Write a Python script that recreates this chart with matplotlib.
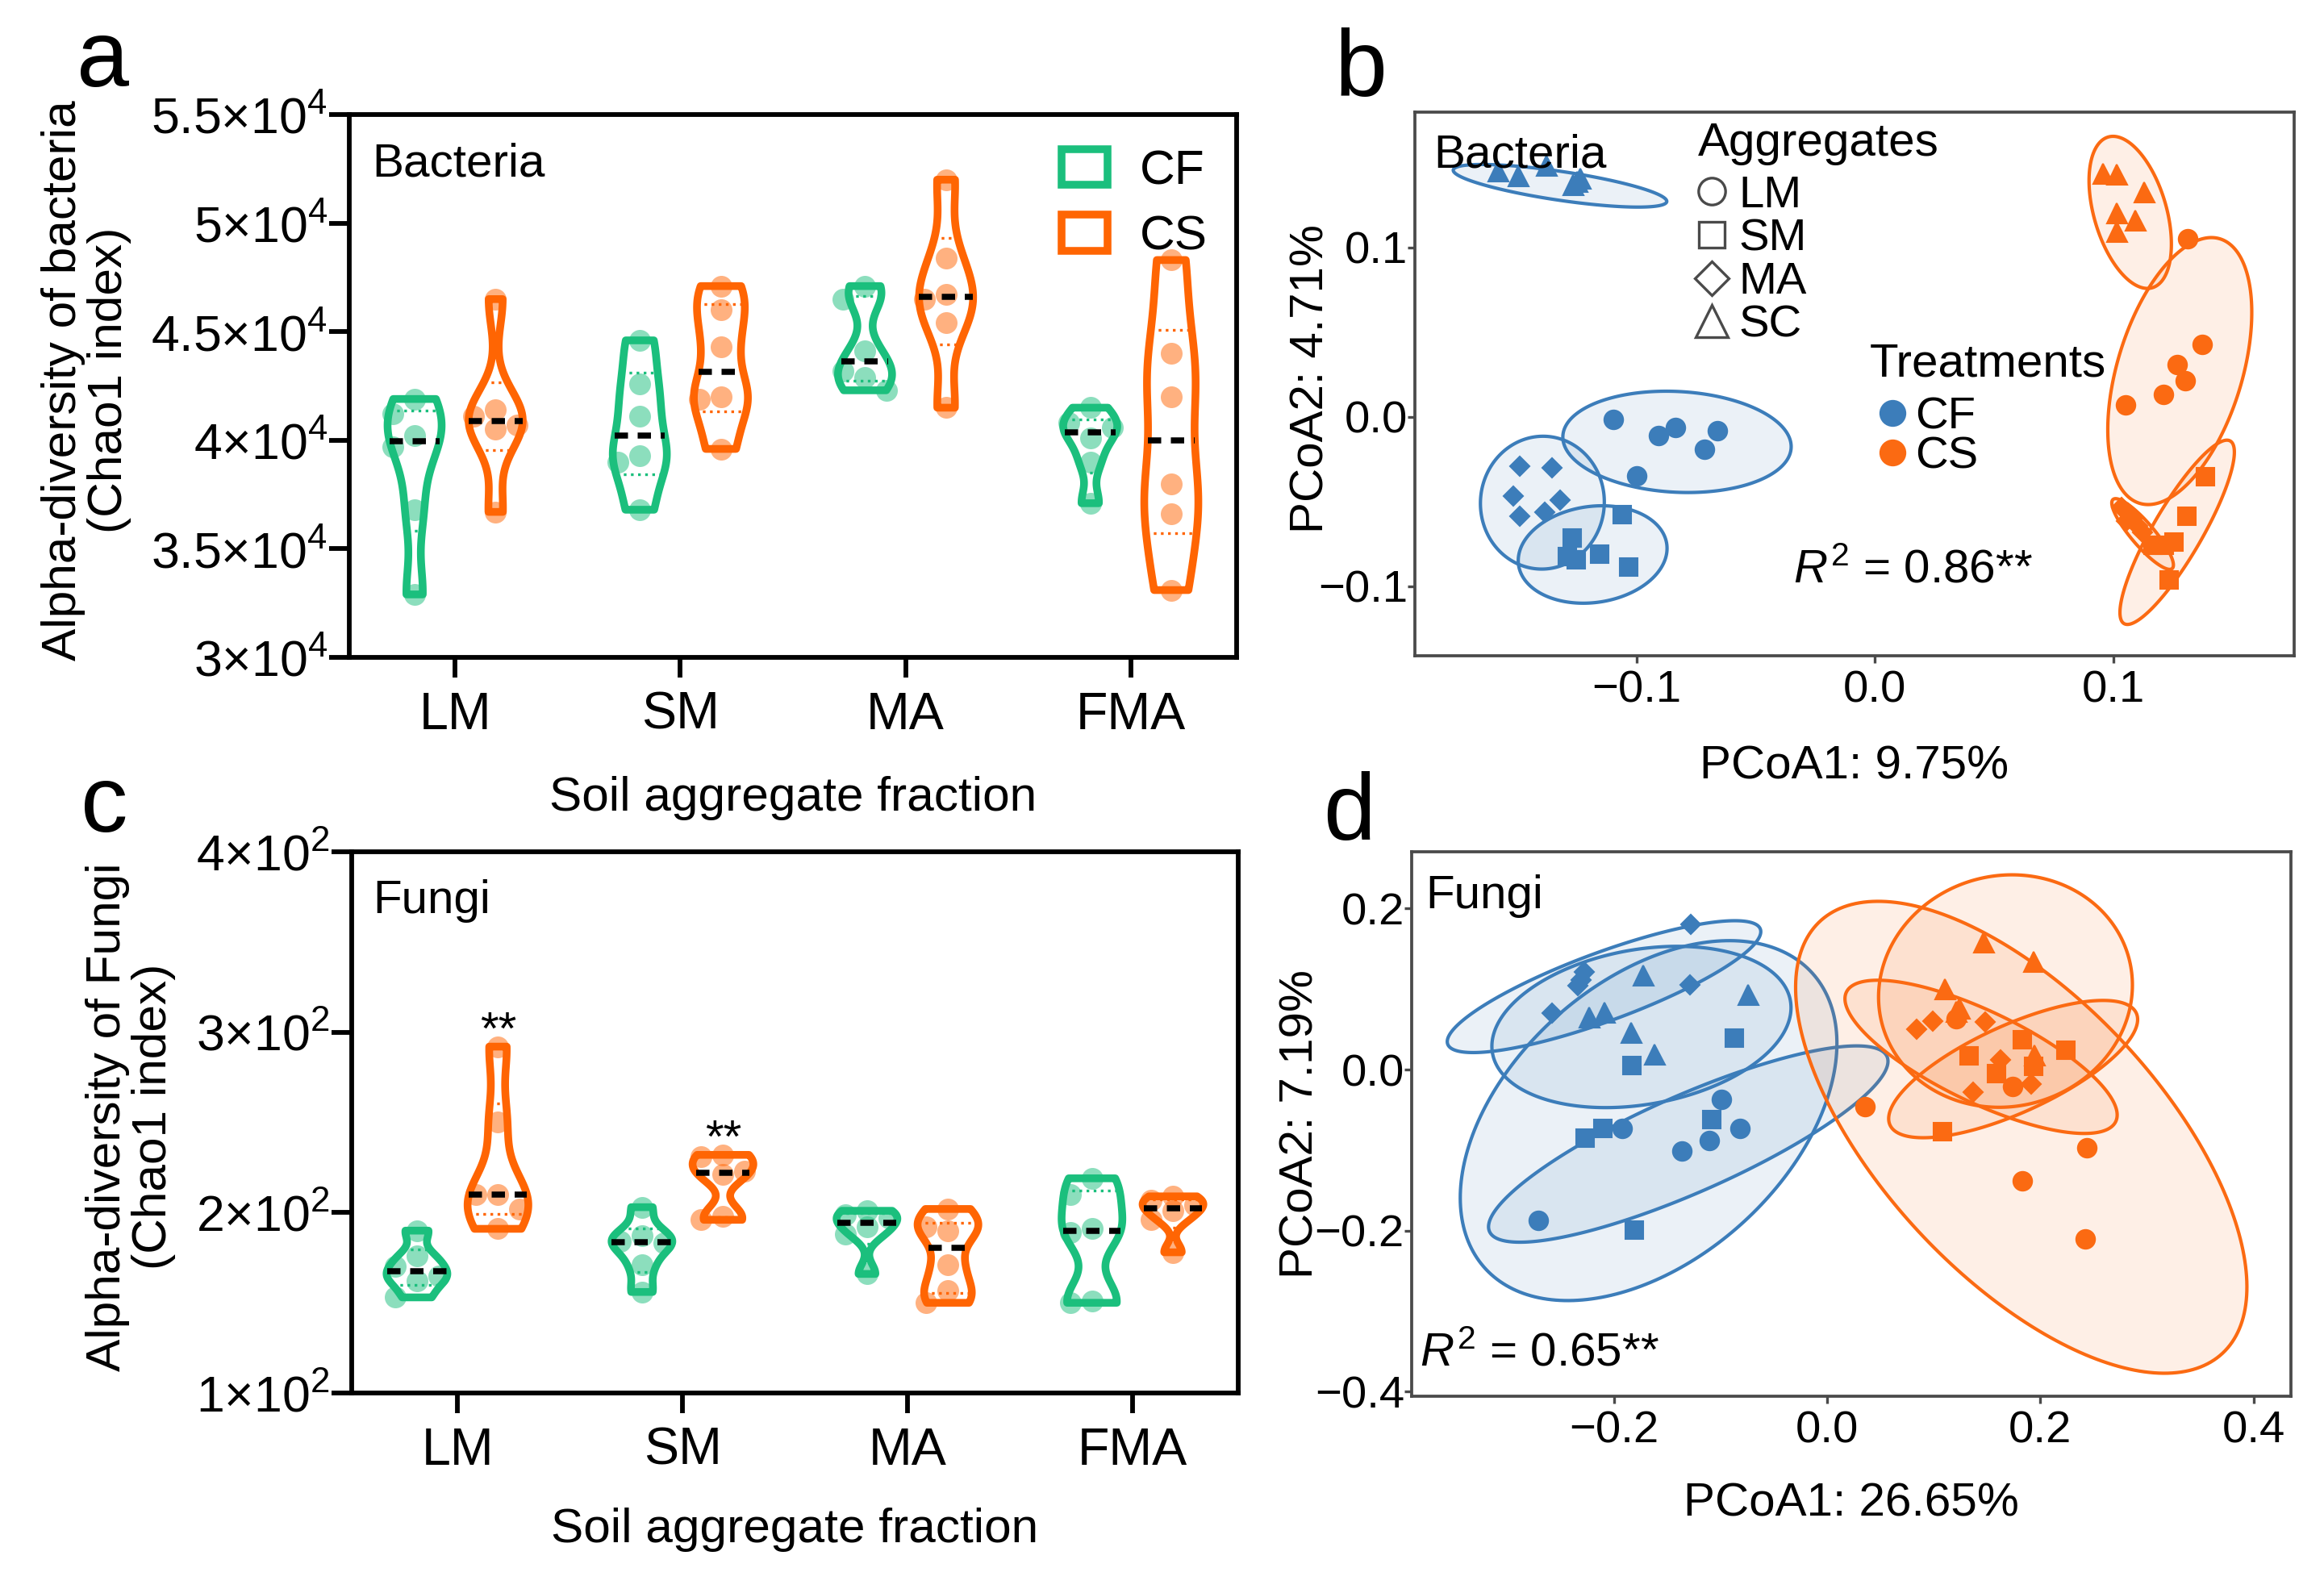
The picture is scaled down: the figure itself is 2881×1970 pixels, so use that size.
import matplotlib
matplotlib.use("Agg")
import matplotlib.pyplot as plt
import numpy as np
from matplotlib import mlab
from matplotlib.colors import to_rgba
from matplotlib.lines import Line2D
from matplotlib.patches import Patch, Polygon

plt.rcParams["font.family"] = ["Liberation Sans", "DejaVu Sans"]
plt.rcParams["mathtext.fontset"] = "custom"
plt.rcParams["mathtext.rm"] = "Liberation Sans"
plt.rcParams["mathtext.it"] = "Liberation Sans:italic"
plt.rcParams["mathtext.bf"] = "Liberation Sans:bold"

# ---------------- alpha diversity (Chao1), 6 replicates per group ----------------
fractions = ["LM", "SM", "MA", "FMA"]
treatments = ["CF", "CS"]

bac_cf = [
    [41900, 41200, 40200, 39700, 36800, 32900],
    [44600, 42600, 41100, 39300, 39000, 36800],
    [47100, 46500, 44100, 43200, 42900, 42300],
    [41500, 40800, 40600, 40100, 39000, 37100],
]
bac_cs = [
    [46500, 41400, 41100, 40700, 40500, 36700],
    [47100, 46000, 44300, 42000, 41900, 39600],
    [52000, 48400, 46700, 46500, 45400, 41500],
    [48300, 44000, 42000, 38000, 36600, 33100],
]
fun_cf = [
    [190, 176, 170, 165, 162, 153],
    [203, 187, 184, 183, 171, 156],
    [201, 199, 197, 192, 188, 166],
    [219, 210, 191, 189, 151, 150],
]
fun_cs = [
    [292, 250, 210, 210, 202, 191],
    [232, 231, 223, 221, 198, 196],
    [202, 192, 190, 171, 157, 150],
    [209, 207, 204, 201, 196, 178],
]
fun_sig = ["**", "**", "", ""]

bac_yticks = [30000, 35000, 40000, 45000, 50000, 55000]
bac_yticklabels = ["3×10$^{4}$", "3.5×10$^{4}$", "4×10$^{4}$",
                   "4.5×10$^{4}$", "5×10$^{4}$", "5.5×10$^{4}$"]
fun_yticks = [100, 200, 300, 400]
fun_yticklabels = ["1×10$^{2}$", "2×10$^{2}$", "3×10$^{2}$", "4×10$^{2}$"]

# ---------------- PCoA scores, lists ordered LM, SM, MA, SC ----------------
aggregates = ["LM", "SM", "MA", "SC"]
agg_markers = ["o", "s", "D", "^"]

bac_cf_pc1 = [
    [-0.1097, -0.0908, -0.0837, -0.0661, -0.0714, -0.1000],
    [-0.1059, -0.1270, -0.1290, -0.1252, -0.1154, -0.1033],
    [-0.1490, -0.1353, -0.1516, -0.1320, -0.1490, -0.1385],
    [-0.1580, -0.1498, -0.1377, -0.1267, -0.1237, -0.1250],
]
bac_cf_pc2 = [
    [-0.0015, -0.0110, -0.0064, -0.0079, -0.0191, -0.0349],
    [-0.0578, -0.0716, -0.0823, -0.0844, -0.0808, -0.0887],
    [-0.0291, -0.0302, -0.0468, -0.0489, -0.0585, -0.0561],
    [0.1452, 0.1424, 0.1488, 0.1373, 0.1410, 0.1390],
]
bac_cs_pc1 = [
    [0.1313, 0.1373, 0.1269, 0.1304, 0.1211, 0.1051],
    [0.1389, 0.1310, 0.1255, 0.1214, 0.1166, 0.1235],
    [0.1035, 0.1062, 0.1083, 0.1055, 0.1104, 0.1124],
    [0.0959, 0.1014, 0.1129, 0.1014, 0.1093, 0.1014],
]
bac_cs_pc2 = [
    [0.1052, 0.0426, 0.0310, 0.0213, 0.0135, 0.0073],
    [-0.0351, -0.0588, -0.0740, -0.0756, -0.0759, -0.0963],
    [-0.0536, -0.0565, -0.0594, -0.0613, -0.0642, -0.0681],
    [0.1437, 0.1433, 0.1330, 0.1204, 0.1161, 0.1097],
]
fun_cf_pc1 = [
    [-0.0992, -0.1920, -0.0816, -0.1103, -0.1363, -0.2707],
    [-0.0867, -0.1829, -0.1083, -0.2268, -0.2106, -0.1809],
    [-0.1278, -0.2275, -0.2309, -0.2335, -0.2579, -0.1285],
    [-0.1728, -0.0738, -0.2234, -0.2089, -0.1836, -0.1616],
]
fun_cf_pc2 = [
    [-0.0366, -0.0732, -0.0732, -0.0880, -0.1014, -0.1877],
    [0.0386, 0.0050, -0.0625, -0.0848, -0.0732, -0.1997],
    [0.1803, 0.1208, 0.1110, 0.1043, 0.0698, 0.1057],
    [0.1177, 0.0932, 0.0654, 0.0707, 0.0462, 0.0193],
]
fun_cs_pc1 = [
    [0.1207, 0.1739, 0.0355, 0.2434, 0.1828, 0.2421],
    [0.1828, 0.1329, 0.2238, 0.1591, 0.1936, 0.1083],
    [0.0837, 0.0991, 0.1486, 0.1624, 0.1372, 0.1913],
    [0.1470, 0.1936, 0.1106, 0.1237, 0.1942, 0.1214],
]
fun_cs_pc2 = [
    [0.0636, -0.0210, -0.0459, -0.0971, -0.1383, -0.2100],
    [0.0367, 0.0171, 0.0236, -0.0050, 0.0037, -0.0775],
    [0.0506, 0.0601, 0.0593, 0.0123, -0.0276, -0.0180],
    [0.1583, 0.1340, 0.1005, 0.0758, 0.0180, 0.0723],
]

# confidence ellipses: centre (cx, cy) and two conjugate semi-axes (ax, ay), (bx, by)
bac_cf_ell = [
    (-0.0830, -0.0147, 0.0479, -0.00352, 0.0011, 0.0297),
    (-0.1184, -0.0812, 0.0311, 0.00616, 0.0028, -0.0281),
    (-0.1395, -0.0506, 0.00226, 0.0391, 0.0259, -0.00298),
    (-0.1321, 0.1365, 0.0448, -0.00935, 0.00088, 0.00842),
]
bac_cs_ell = [
    (0.1280, 0.0271, 0.01682, 0.0781, 0.0251, -0.01067),
    (0.1269, -0.0681, 0.0223, 0.0539, 0.0089, -0.0074),
    (0.1124, -0.0691, 0.0124, -0.0204, 0.00366, 0.00443),
    (0.1072, 0.1208, 0.00924, -0.0445, 0.0146, 0.0060),
]
fun_cf_ell = [
    (-0.1302, -0.0925, 0.1864, 0.1087, 0.0184, -0.0552),
    (-0.1674, -0.0634, 0.1536, 0.1831, 0.0872, -0.1282),
    (-0.2092, 0.1030, 0.1466, 0.0715, 0.0111, -0.0399),
    (-0.1741, 0.0529, 0.1397, 0.0326, 0.0126, -0.0947),
]
fun_cs_ell = [
    (0.1821, -0.0841, 0.1888, -0.2682, 0.0956, 0.1181),
    (0.1745, 0.0006, 0.1155, 0.0695, 0.0170, -0.0494),
    (0.1444, 0.0158, 0.1263, -0.0804, 0.0185, 0.0509),
    (0.1673, 0.0975, 0.1157, 0.0411, 0.0280, -0.1384),
]

GREEN = "#1bbf7d"
ORANGE = "#ff6503"
BLUE = "#3c7dba"
PORANGE = "#fb6a12"

OFFSET = 0.18
BW = 0.42


def swarm_offsets(ax, vals, step_px):
    """horizontal offsets (data units) so that the dots overlap as little as possible"""
    x0, x1 = ax.get_xlim()
    y0, y1 = ax.get_ylim()
    kx = ax.bbox.width / (x1 - x0)
    ky = ax.bbox.height / (y1 - y0)
    placed = []
    out = []
    for v in vals:
        best, best_d = 0.0, -1.0
        for k in (0, -1, 1):
            dx = k * step_px
            d = min((np.hypot(dx - px, (v - pv) * ky) for px, pv in placed), default=np.inf)
            if d >= 0.95 * step_px:
                best = dx
                break
            if d > best_d:
                best, best_d = dx, d
        placed.append((best, v))
        out.append(best / kx)
    return out


def draw_violins(ax, cf, cs, vw):
    for i in range(len(fractions)):
        for vals, dx, col in ((cf[i], -OFFSET, GREEN), (cs[i], OFFSET, ORANGE)):
            vals = np.asarray(vals, float)
            pos = i + dx
            parts = ax.violinplot([vals], positions=[pos], widths=vw,
                                  showextrema=False, bw_method=BW)
            body = parts["bodies"][0]
            body.set_facecolor("none")
            body.set_edgecolor(col)
            body.set_alpha(1)
            body.set_linewidth(2.3)
            body.set_zorder(4)
            body.set_joinstyle("round")

            kde = mlab.GaussianKDE(vals, BW)
            grid = np.linspace(vals.min(), vals.max(), 100)
            peak = kde.evaluate(grid).max()

            def half(y):
                return 0.5 * vw * kde.evaluate(np.atleast_1d(y))[0] / peak

            med = np.median(vals)
            hw = half(med)
            ax.plot([pos - hw, pos + hw], [med, med], color="black", lw=1.8,
                    ls=(0, (2.2, 1.6)), zorder=5, solid_capstyle="butt")
            for q in np.percentile(vals, [25, 75], method="weibull"):
                hq = half(q)
                ax.plot([pos - hq, pos + hq], [q, q], color=col, lw=0.8, ls=":", zorder=5)

            order = np.sort(vals)[::-1]
            offs = swarm_offsets(ax, order, 27)
            ax.scatter(pos + np.array(offs), order, s=42, color=col, alpha=0.5,
                       linewidths=0, zorder=3)


def style_violin_axes(ax, yticks, yticklabels, ylim):
    ax.set_xlim(-0.47, 3.47)
    ax.set_ylim(*ylim)
    ax.set_xticks(range(len(fractions)))
    ax.set_xticklabels(fractions, fontsize=15.5)
    ax.set_yticks(yticks)
    ax.set_yticklabels(yticklabels, fontsize=15)
    for s in ax.spines.values():
        s.set_linewidth(1.4)
    ax.tick_params(axis="x", length=6, width=1.4, pad=4)
    ax.tick_params(axis="y", length=6, width=1.4, pad=0.5)
    ax.set_xlabel("Soil aggregate fraction", fontsize=14.5)


def draw_pcoa(ax, cf1, cf2, cs1, cs2, cf_ell, cs_ell):
    t = np.linspace(0, 2 * np.pi, 240)
    for ells, col in ((cf_ell, BLUE), (cs_ell, PORANGE)):
        for cx, cy, ax_, ay_, bx_, by_ in ells:
            xs = cx + ax_ * np.cos(t) + bx_ * np.sin(t)
            ys = cy + ay_ * np.cos(t) + by_ * np.sin(t)
            ax.add_patch(Polygon(np.column_stack([xs, ys]), closed=True,
                                 facecolor=to_rgba(col, 0.1), edgecolor=col,
                                 lw=1.0, zorder=2))
    sizes = {"o": 5.6, "s": 5.4, "D": 4.0, "^": 6.0}
    for p1, p2, col in ((cf1, cf2, BLUE), (cs1, cs2, PORANGE)):
        for j, m in enumerate(agg_markers):
            ax.plot(p1[j], p2[j], ls="none", marker=m, ms=sizes[m], color=col,
                    mec=col, mew=0.5, zorder=3)
    for s in ax.spines.values():
        s.set_linewidth(0.9)
        s.set_color("#4a4a4a")
    ax.tick_params(length=2.2, width=0.8, color="#4a4a4a", labelsize=13.5)
    ax.tick_params(axis="y", pad=0)
    ax.tick_params(axis="x", pad=2)


W, H = 2881, 1970
fig = plt.figure(figsize=(W / 300, H / 300), dpi=300)


def px_axes(left, top, right, bottom):
    return fig.add_axes([left / W, 1 - bottom / H, (right - left) / W, (bottom - top) / H])


ax_a = px_axes(433, 142, 1533, 815)
ax_b = px_axes(1754, 139, 2844, 813)
ax_c = px_axes(436, 1056, 1535, 1727)
ax_d = px_axes(1750, 1056, 2840, 1731)

# ---------------- panel a ----------------
style_violin_axes(ax_a, bac_yticks, bac_yticklabels, (30000, 55000))
draw_violins(ax_a, bac_cf, bac_cs, 0.24)
ax_a.set_ylabel("Alpha-diversity of bacteria\n(Chao1 index)", fontsize=14.5, linespacing=1.05)
ax_a.yaxis.set_label_coords(-0.245, 0.51)
ax_a.xaxis.set_label_coords(0.5, -0.218)
ax_a.text(0.026, 0.886, "Bacteria", transform=ax_a.transAxes, fontsize=14, va="baseline")
ax_a.legend(
    [Patch(facecolor="white", edgecolor=c, lw=2.3) for c in (GREEN, ORANGE)],
    treatments, loc="upper right", bbox_to_anchor=(0.967, 0.936), frameon=False,
    fontsize=14.5, handlelength=0.95, handleheight=0.75, handletextpad=0.65,
    labelspacing=0.43, borderpad=0, borderaxespad=0,
)

# ---------------- panel c ----------------
style_violin_axes(ax_c, fun_yticks, fun_yticklabels, (100, 400))
draw_violins(ax_c, fun_cf, fun_cs, 0.27)
ax_c.set_ylabel("Alpha-diversity of Fungi\n(Chao1 index)", fontsize=14.5, linespacing=1.05)
ax_c.yaxis.set_label_coords(-0.198, 0.51)
ax_c.xaxis.set_label_coords(0.5, -0.212)
ax_c.text(0.024, 0.886, "Fungi", transform=ax_c.transAxes, fontsize=14, va="baseline")
for i, sig in enumerate(fun_sig):
    if sig:
        ax_c.text(i + OFFSET, max(fun_cs[i]) + 8, sig, ha="center", va="center", fontsize=14)

# ---------------- panel b ----------------
draw_pcoa(ax_b, bac_cf_pc1, bac_cf_pc2, bac_cs_pc1, bac_cs_pc2, bac_cf_ell, bac_cs_ell)
ax_b.set_xlim(-0.193, 0.176)
ax_b.set_ylim(-0.141, 0.180)
ax_b.set_xticks([-0.1, 0.0, 0.1])
ax_b.set_yticks([-0.1, 0.0, 0.1])
ax_b.set_xticklabels(["−0.1", "0.0", "0.1"])
ax_b.set_yticklabels(["−0.1", "0.0", "0.1"])
ax_b.set_xlabel("PCoA1: 9.75%", fontsize=14)
ax_b.set_ylabel("PCoA2: 4.71%", fontsize=14)
ax_b.xaxis.set_label_coords(0.5, -0.1635)
ax_b.yaxis.set_label_coords(-0.093, 0.509)
ax_b.text(0.021, 0.898, "Bacteria", transform=ax_b.transAxes, fontsize=14,
          va="baseline", zorder=10)
ax_b.text(0.43, 0.134, "$\\mathit{R}^{2}$ = 0.86**", transform=ax_b.transAxes,
          fontsize=14, va="baseline")

# legend titles as separate texts so that the rows can sit tightly
ax_b.text(0.322, 0.9206, "Aggregates", transform=ax_b.transAxes, fontsize=14, va="baseline")
leg_agg = ax_b.legend(
    [Line2D([], [], ls="none", marker=m, ms={"o": 8, "s": 7.5, "D": 7, "^": 9.5}[m],
            mfc="none", mec="#4a4a4a", mew=0.8) for m in agg_markers],
    aggregates, loc="upper left", bbox_to_anchor=(0.322, 0.884),
    frameon=False, fontsize=13.5, handlelength=0.6,
    handletextpad=0.3, labelspacing=0.027, borderpad=0, borderaxespad=0,
)
ax_b.add_artist(leg_agg)
ax_b.text(0.517, 0.5138, "Treatments", transform=ax_b.transAxes, fontsize=14, va="baseline")
ax_b.legend(
    [Line2D([], [], ls="none", marker="o", ms=8, color=c, mew=0) for c in (BLUE, PORANGE)],
    treatments, loc="upper left", bbox_to_anchor=(0.517, 0.477),
    frameon=False, fontsize=13.5, handlelength=1.0,
    handletextpad=0.0, labelspacing=-0.053, borderpad=0, borderaxespad=0,
)

# ---------------- panel d ----------------
draw_pcoa(ax_d, fun_cf_pc1, fun_cf_pc2, fun_cs_pc1, fun_cs_pc2, fun_cf_ell, fun_cs_ell)
ax_d.set_xlim(-0.3896, 0.435)
ax_d.set_ylim(-0.4057, 0.2705)
ax_d.set_xticks([-0.2, 0.0, 0.2, 0.4])
ax_d.set_yticks([-0.4, -0.2, 0.0, 0.2])
ax_d.set_xticklabels(["−0.2", "0.0", "0.2", "0.4"])
ax_d.set_yticklabels(["−0.4", "−0.2", "0.0", "0.2"])
ax_d.set_xlabel("PCoA1: 26.65%", fontsize=14)
ax_d.set_ylabel("PCoA2: 7.19%", fontsize=14)
ax_d.xaxis.set_label_coords(0.5, -0.1575)
ax_d.yaxis.set_label_coords(-0.101, 0.5)
ax_d.text(0.016, 0.896, "Fungi", transform=ax_d.transAxes, fontsize=14, va="baseline")
ax_d.text(0.009, 0.056, "$\\mathit{R}^{2}$ = 0.65**", transform=ax_d.transAxes,
          fontsize=14, va="baseline")

# panel letters
for lab, x, y in (("a", 0.033, 0.9457), ("b", 0.5744, 0.9394),
                  ("c", 0.0347, 0.4767), ("d", 0.5694, 0.4718)):
    fig.text(x, y, lab, fontsize=28, ha="left", va="baseline")

fig.savefig("out.png", dpi=300)
